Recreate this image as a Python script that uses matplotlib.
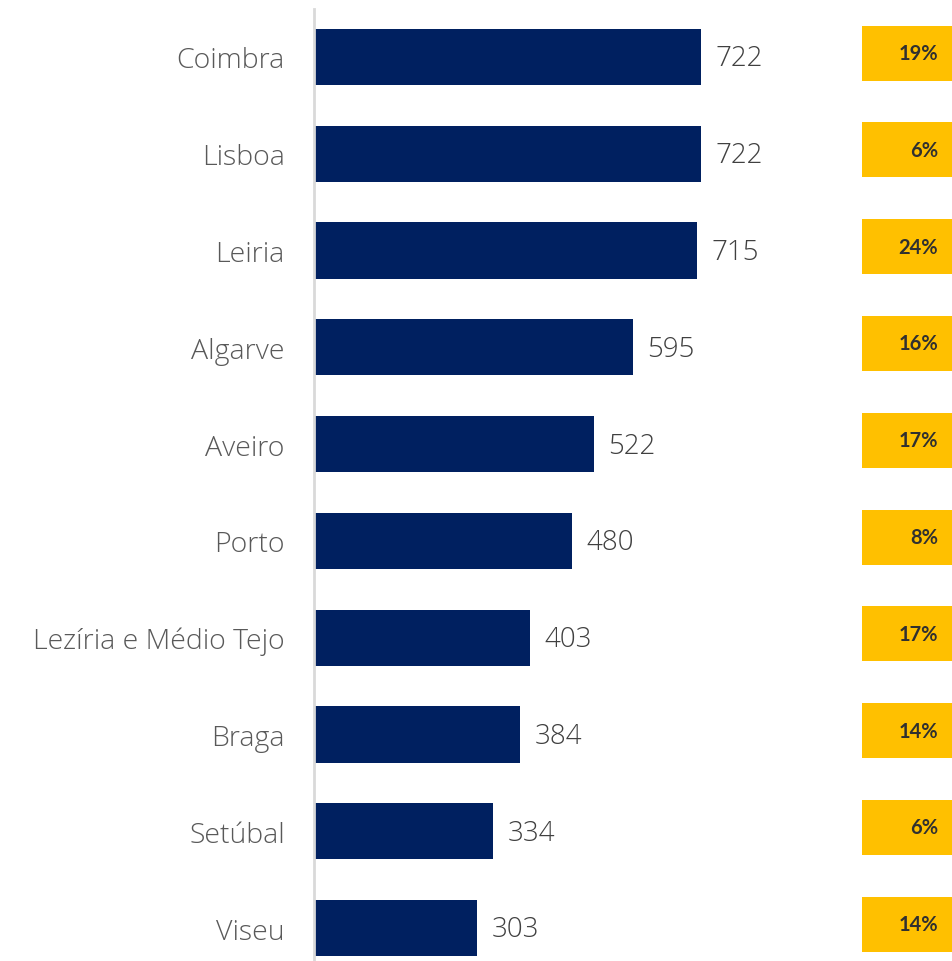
import matplotlib
matplotlib.use("Agg")
import matplotlib.pyplot as plt
from matplotlib.patches import Rectangle
import matplotlib.transforms as mtransforms

plt.rcParams["font.family"] = ["Lato", "DejaVu Sans"]
label_font = ["Open Sans", "DejaVu Sans"]

regions = ["Coimbra", "Lisboa", "Leiria", "Algarve", "Aveiro", "Porto",
           "Lezíria e Médio Tejo", "Braga", "Setúbal", "Viseu"]
values = [722, 722, 715, 595, 522, 480, 403, 384, 334, 303]
shares = ["19%", "6%", "24%", "16%", "17%", "8%", "17%", "14%", "6%", "14%"]

W, H = 953, 962
fig = plt.figure(figsize=(W / 100, H / 100), dpi=100)

ax_left, ax_top, ax_bottom = 314, 10, 962
ax = fig.add_axes([ax_left / W, 1 - ax_bottom / H, (W - ax_left) / W, (ax_bottom - ax_top) / H])

px_per_row = 96.78
first_center = 58
y_top = -(first_center - ax_top) / px_per_row
y_bot = (len(regions) - 1) + (ax_bottom - (first_center + (len(regions) - 1) * px_per_row)) / px_per_row

px_per_unit = 0.535
xmax = (W - ax_left) / px_per_unit

ypos = list(range(len(regions)))
ax.barh(ypos, values, height=0.58, color="#002060", left=1.5)
ax.set_ylim(y_bot, y_top)
ax.set_xlim(0, xmax)

ax.set_yticks(ypos)
ax.set_yticklabels(regions, fontsize=20.5, color="#595959", fontweight="light",
                   family=label_font)
ax.tick_params(axis="y", length=0, pad=21)
ax.set_xticks([])

for s in ["top", "right", "bottom"]:
    ax.spines[s].set_visible(False)
ax.spines["left"].set_color("#d9d9d9")
ax.spines["left"].set_linewidth(2)

for y, v in zip(ypos, values):
    ax.annotate(str(v), xy=(v, y), xytext=(11, -1), textcoords="offset points",
                va="center", ha="left", fontsize=20, color="#404040",
                fontweight="light", family=label_font)

# share boxes on the right
trans = mtransforms.blended_transform_factory(ax.transAxes, ax.transData)
box_left = (862 - ax_left) / (W - ax_left)
text_right = (938 - ax_left) / (W - ax_left)
box_h = 55 / px_per_row
box_shift = 0.04
for y, s in zip(ypos, shares):
    ax.add_patch(Rectangle((box_left, y - box_h / 2 - box_shift), 1.0 - box_left, box_h,
                           transform=trans, facecolor="#FFC000", edgecolor="none",
                           clip_on=False))
    ax.text(text_right, y - box_shift, s, transform=trans, ha="right", va="center",
            fontsize=14.5, fontweight="bold", color="#303030")

fig.savefig("out.png", dpi=100)
